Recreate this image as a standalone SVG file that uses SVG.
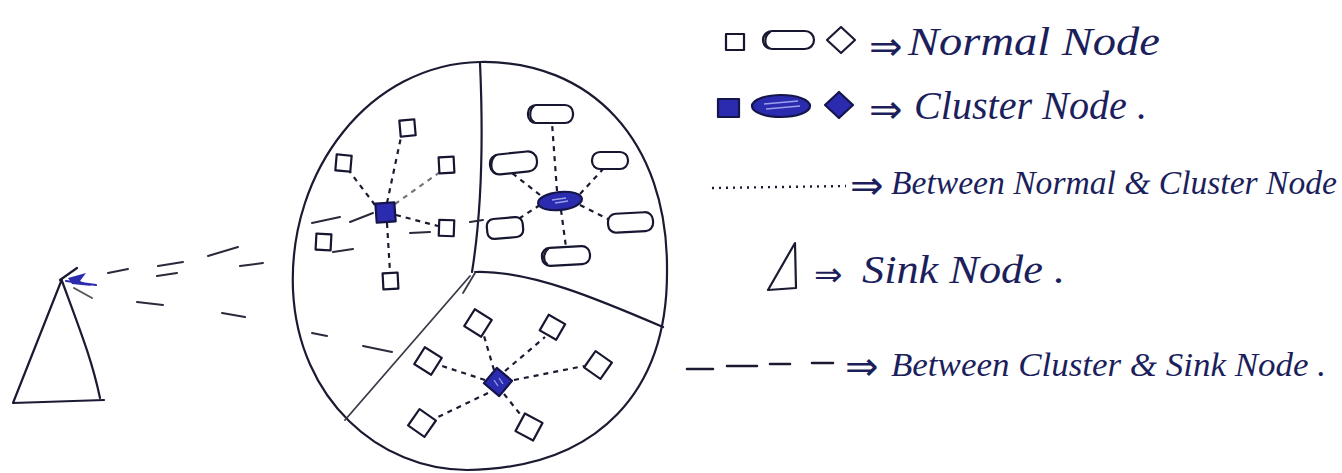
<svg xmlns="http://www.w3.org/2000/svg" width="1342" height="473" viewBox="0 0 1342 473">
<style>
.ink{fill:none;stroke:#1a1a33;stroke-width:2.2;stroke-linejoin:round;stroke-linecap:round}
.part{fill:none;stroke:#3a3a48;stroke-width:1.8;stroke-linecap:round}
.node{fill:#ffffff;stroke:#161630;stroke-width:2.2;stroke-linejoin:round}
.cluster{fill:#2b2bb0;stroke:#15154a;stroke-width:2.2;stroke-linejoin:round}
.shine{fill:none;stroke:#9aa0e8;stroke-width:1.3}
.dot{fill:none;stroke:#1a1a30;stroke-width:2.2;stroke-dasharray:5 5}
.long{fill:none;stroke:#2a2a3a;stroke-width:2;stroke-linecap:round}
.lbl{font-family:"Liberation Serif",serif;font-style:italic;font-size:40px;fill:#1c1f5c}
.lbl2{font-family:"Liberation Serif",serif;font-style:italic;font-size:34px;fill:#1c1f5c}
.arr{font-family:"DejaVu Sans",sans-serif;font-size:40px;fill:#1c1f5c}
.blue{fill:none;stroke:#2b2bb0;stroke-width:2.2;stroke-linecap:round}
</style>
<rect width="1342" height="473" fill="#ffffff"/>

<g id="field">
<path class="ink" d="M480,62 C590,60 668,140 667,270 C668,390 600,468 467,470 C380,470 298,400 293,290 C288,170 370,64 480,62 Z"/>
<path class="ink" d="M480,63 C483,130 482,210 472,272"/>
<path class="ink" d="M475,272 C530,270 600,300 663,327"/>
<path class="part" d="M475,273 L463,293 M470,276 L345,420"/>
</g>

<g id="connectors">
<g id="normal-cluster-links">
<path class="dot" d="M387,203 L401,137"/>
<path class="dot" d="M375,205 L350,172"/>
<path class="dot" d="M395,204 L440,172" style="stroke:#777"/>
<path class="dot" d="M396,215 L438,226"/>
<path class="dot" d="M387,223 L390,272"/>
<path class="dot" d="M557,191 L552,123"/>
<path class="dot" d="M540,195 L512,173"/>
<path class="dot" d="M580,194 L604,168"/>
<path class="dot" d="M580,205 L608,219"/>
<path class="dot" d="M540,205 L520,218"/>
<path class="dot" d="M561,210 L566,247"/>
<path class="dot" d="M494,370 L484,336"/>
<path class="dot" d="M505,371 L545,337"/>
<path class="dot" d="M485,380 L442,366"/>
<path class="dot" d="M514,380 L584,366"/>
<path class="dot" d="M488,393 L436,418"/>
<path class="dot" d="M504,394 L520,414"/>
</g>
<g id="cluster-sink-links">
<path class="long" d="M108,273 L128,269 M158,266 L183,262 M208,256 L238,247 M312,223 L340,217 M350,222 L373,213"/>
<path class="long" d="M157,276 L177,273 M240,266 L263,263 M333,252 L353,249 M410,233 L430,232 M470,222 L483,220"/>
<path class="long" d="M137,302 L163,305 M222,313 L245,317 M312,333 L327,336 M363,346 L392,352"/>
<path class="ink" d="M60,280 L77,268"/>
<path class="blue" d="M66,281 L96,285"/>
<path d="M68,278 L86,273 L80,281 L92,286 L72,284 Z" fill="#2b2bb0"/>
<path class="long" d="M74,288 L92,298" style="stroke:#555"/>
</g>
</g>

<g id="sink">
<path class="ink" d="M62,279 L13,403 L104,400 M62,281 C80,330 92,360 100,398"/>
</g>

<g id="cluster-square"><rect class="cluster" x="376" y="203" width="19" height="19" transform="rotate(-4 385 212)"/></g>
<g id="cluster-ellipse"><ellipse class="cluster" cx="560" cy="201" rx="22" ry="9" transform="rotate(-6 560 201)"/><path class="shine" d="M552,200 L566,198 M555,203 L568,201"/></g>
<g id="cluster-diamond"><rect class="cluster" x="488" y="372" width="20" height="20" transform="rotate(40 498 382)"/><path class="shine" d="M494,380 L498,386 M499,378 L503,384"/></g>

<g id="sq1"><rect class="node" x="400" y="120" width="15" height="16" transform="rotate(-5 407 128)"/></g>
<g id="sq2"><rect class="node" x="336" y="155" width="15" height="16" transform="rotate(5 343 163)"/></g>
<g id="sq3"><rect class="node" x="439" y="157" width="15" height="16" transform="rotate(-3 446 165)"/></g>
<g id="sq4"><rect class="node" x="316" y="234" width="15" height="16" transform="rotate(3 323 242)"/></g>
<g id="sq5"><rect class="node" x="439" y="220" width="15" height="16" transform="rotate(2 446 228)"/></g>
<g id="sq6"><rect class="node" x="383" y="273" width="15" height="16" transform="rotate(-3 390 281)"/></g>

<g id="pill1"><rect class="node" x="528" y="105" width="45" height="18" rx="8"/><path class="ink" d="M534,106 C529,110 529,119 534,122"/></g>
<g id="pill2"><rect class="node" x="490" y="153" width="47" height="20" rx="9" transform="rotate(-6 513 163)"/><path class="ink" d="M496,155 C490,160 490,170 495,173"/></g>
<g id="pill3"><rect class="node" x="592" y="152" width="36" height="17" rx="8"/></g>
<g id="pill4"><rect class="node" x="608" y="213" width="45" height="19" rx="8" transform="rotate(-3 630 222)"/></g>
<g id="pill5"><rect class="node" x="487" y="218" width="36" height="20" rx="7" transform="rotate(-5 505 228)"/></g>
<g id="pill6"><rect class="node" x="542" y="247" width="48" height="18" rx="8" transform="rotate(-3 566 256)"/><path class="ink" d="M548,249 C543,253 543,261 547,264"/></g>

<g id="dia1"><rect class="node" x="468" y="313" width="20" height="20" transform="rotate(32 478 323)"/></g>
<g id="dia2"><rect class="node" x="543" y="318" width="19" height="18" transform="rotate(30 552 327)"/></g>
<g id="dia3"><rect class="node" x="418" y="351" width="20" height="20" transform="rotate(32 428 361)"/></g>
<g id="dia4"><rect class="node" x="588" y="355" width="20" height="20" transform="rotate(35 598 365)"/></g>
<g id="dia5"><rect class="node" x="412" y="413" width="20" height="20" transform="rotate(35 422 423)"/></g>
<g id="dia6"><rect class="node" x="519" y="417" width="20" height="20" transform="rotate(28 529 427)"/></g>

<g id="legend">
<g id="leg-normal">
<rect class="node" x="726" y="34" width="18" height="16"/>
<rect class="node" x="763" y="31" width="51" height="18" rx="9"/>
<path class="ink" d="M770,32 C764,36 764,45 769,48"/>
<path class="ink" d="M841,27 L855,40 L841,53 L827,40 Z"/>
<text class="arr" x="869" y="60">⇒</text>
<text class="lbl" x="908" y="55" textLength="252" lengthAdjust="spacingAndGlyphs">Normal Node</text>
</g>
<g id="leg-cluster">
<rect class="cluster" x="718" y="99" width="21" height="18"/>
<ellipse class="cluster" cx="781" cy="106" rx="29" ry="11"/>
<path class="shine" d="M764,104 L798,101 M766,109 L800,106"/>
<path class="cluster" d="M839,92 L853,105 L839,118 L825,105 Z"/>
<text class="arr" x="869" y="123">⇒</text>
<text class="lbl" x="914" y="119" textLength="233" lengthAdjust="spacingAndGlyphs">Cluster Node .</text>
</g>
<g id="leg-link1">
<path class="dot" d="M712,188 L846,186" style="stroke-dasharray:2 5;stroke-width:2.4"/>
<text class="arr" x="850" y="199">⇒</text>
<text class="lbl2" x="891" y="194" textLength="446" lengthAdjust="spacingAndGlyphs">Between Normal &amp; Cluster Node</text>
</g>
<g id="leg-sink">
<path class="ink" d="M795,243 L768,290 L796,288 Z"/>
<text class="arr" x="814" y="286" style="font-size:34px">⇒</text>
<text class="lbl" x="862" y="283" textLength="203" lengthAdjust="spacingAndGlyphs">Sink Node .</text>
</g>
<g id="leg-link2">
<path class="long" d="M687,369 L713,369 M727,366 L757,366 M770,364 L790,364 M812,363 L833,363" style="stroke-width:2.6;stroke:#1a1a33"/>
<text class="arr" x="845" y="380">⇒</text>
<text class="lbl2" x="891" y="376" textLength="435" lengthAdjust="spacingAndGlyphs">Between Cluster &amp; Sink Node .</text>
</g>
</g>
</svg>
